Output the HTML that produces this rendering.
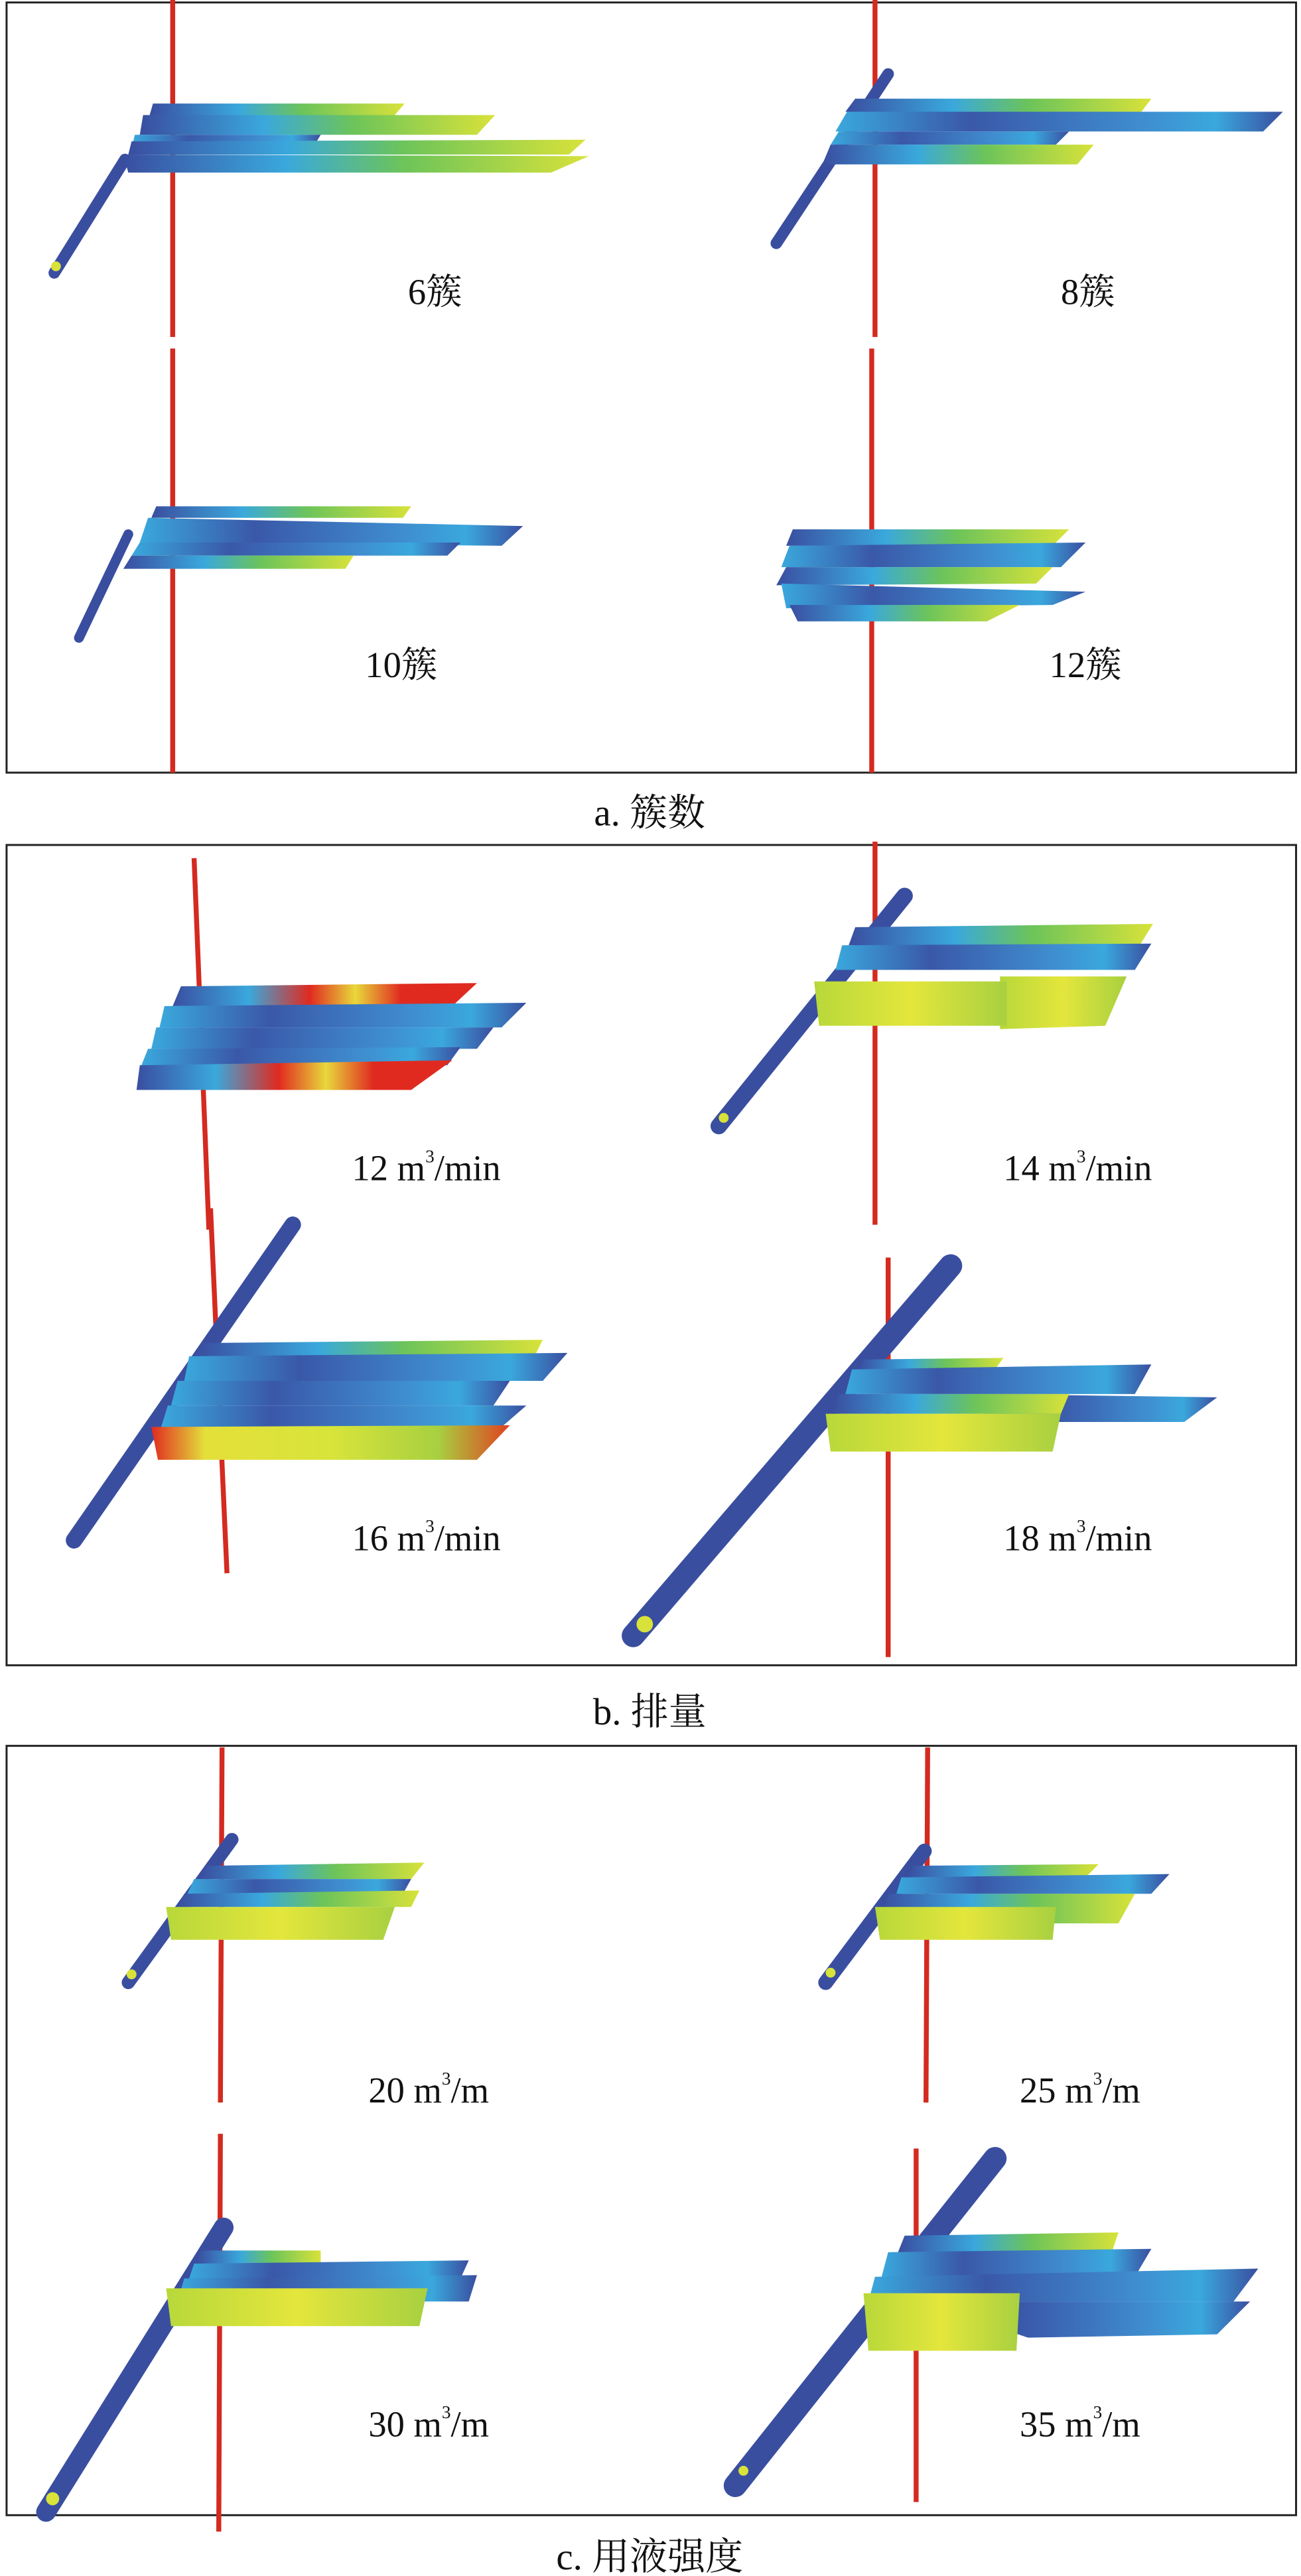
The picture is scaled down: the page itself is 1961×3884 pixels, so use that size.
<!DOCTYPE html>
<html><head><meta charset="utf-8"><style>
html,body{margin:0;padding:0;background:#fff}
svg{display:block}
text{font-family:"Liberation Serif","Noto Serif CJK SC",serif;fill:#111}
</style></head><body>
<svg width="1961" height="3884" viewBox="0 0 791 1567" preserveAspectRatio="none" xmlns="http://www.w3.org/2000/svg">
<defs>
<linearGradient id="gA" x1="0" x2="1" y1="0" y2="0"><stop offset="0" stop-color="#3a4ea0"/><stop offset=".35" stop-color="#3aa8dc"/><stop offset=".6" stop-color="#6cc45a"/><stop offset="1" stop-color="#d8e23a"/></linearGradient>
<linearGradient id="gB" x1="0" x2="1" y1="0" y2="0"><stop offset="0" stop-color="#3aa8dc"/><stop offset=".3" stop-color="#3a58a8"/><stop offset=".7" stop-color="#3f8fd0"/><stop offset=".85" stop-color="#3aa8dc"/><stop offset="1" stop-color="#3a4ea0"/></linearGradient>
<linearGradient id="gY" x1="0" x2="1" y1="0" y2="0"><stop offset="0" stop-color="#b8d83a"/><stop offset=".5" stop-color="#e4e63c"/><stop offset="1" stop-color="#a8d040"/></linearGradient>
<linearGradient id="gYR" x1="0" x2="1" y1="0" y2="0"><stop offset="0" stop-color="#e02a20"/><stop offset=".15" stop-color="#e4e03a"/><stop offset=".5" stop-color="#d8e43a"/><stop offset=".8" stop-color="#a8d040"/><stop offset="1" stop-color="#e04020"/></linearGradient>
<linearGradient id="gR" x1="0" x2="1" y1="0" y2="0"><stop offset="0" stop-color="#3a4ea0"/><stop offset=".25" stop-color="#3aa8dc"/><stop offset=".45" stop-color="#e02a20"/><stop offset=".6" stop-color="#e8d83a"/><stop offset=".75" stop-color="#e02a20"/><stop offset="1" stop-color="#e02a20"/></linearGradient>
</defs>
<g fill="none" stroke="#222" stroke-width="1.2">
<rect x="4" y="1.5" width="784" height="468.5"/>
<rect x="4" y="514" width="784" height="499"/>
<rect x="4" y="1062" width="784" height="468"/>
</g>
<g stroke="#d42a20" stroke-width="3" fill="none">
<line x1="105" y1="0" x2="105" y2="205"/><line x1="105" y1="212" x2="105" y2="470"/>
<line x1="532" y1="0" x2="532" y2="205"/><line x1="530" y1="212" x2="530" y2="470"/>
<line x1="118" y1="522" x2="127" y2="748"/><line x1="532" y1="512" x2="532" y2="745"/>
<line x1="128" y1="735" x2="138" y2="957"/><line x1="540" y1="765" x2="540" y2="1008"/>
<line x1="135" y1="1063" x2="134" y2="1279"/><line x1="564" y1="1063" x2="563" y2="1279"/>
<line x1="134" y1="1298" x2="133" y2="1540"/><line x1="557" y1="1307" x2="557" y2="1522"/>
</g>
<g stroke="#3a4ea0" stroke-linecap="round" fill="none">
<line x1="76" y1="97" x2="33" y2="166" stroke-width="7"/>
<line x1="540" y1="45" x2="472" y2="148" stroke-width="7"/>
<line x1="78" y1="325" x2="48" y2="388" stroke-width="6"/>
<line x1="550" y1="545" x2="437" y2="685" stroke-width="10"/>
<line x1="178" y1="745" x2="45" y2="937" stroke-width="10"/>
<line x1="578" y1="770" x2="385" y2="995" stroke-width="14"/>
<line x1="141" y1="1119" x2="78" y2="1206" stroke-width="8"/>
<line x1="562" y1="1126" x2="502" y2="1206" stroke-width="9"/>
<line x1="136" y1="1355" x2="28" y2="1528" stroke-width="12"/>
<line x1="605" y1="1313" x2="447" y2="1512" stroke-width="14"/>
</g>
<g fill="#d8e23a"><circle cx="34" cy="162" r="3"/><circle cx="440" cy="680" r="3"/><circle cx="392" cy="988" r="5"/><circle cx="80" cy="1201" r="3"/><circle cx="505" cy="1200" r="3"/><circle cx="32" cy="1520" r="4"/><circle cx="452" cy="1503" r="3"/></g>
<!-- a1 -->
<polygon fill="url(#gA)" points="93,63 246,63 240,70 91,70"/>
<polygon fill="url(#gA)" points="87,70 301,70 290,82 85,82"/>
<polygon fill="url(#gB)" points="82,82 195,82 190,90 80,90"/>
<polygon fill="url(#gA)" points="80,86 356,85 346,94 78,94"/>
<polygon fill="url(#gA)" points="75,94 358,95 335,105 78,105"/>
<!-- a2 -->
<polygon fill="url(#gA)" points="520,60 700,60 694,68 514,68"/>
<polygon fill="url(#gB)" points="515,68 780,68 768,80 508,80"/>
<polygon fill="url(#gB)" points="510,80 650,80 642,88 505,88"/>
<polygon fill="url(#gA)" points="505,88 665,88 655,100 500,100"/>
<!-- a3 -->
<polygon fill="url(#gA)" points="95,308 250,308 245,315 92,315"/>
<polygon fill="url(#gB)" points="90,315 318,320 305,332 85,330"/>
<polygon fill="url(#gB)" points="85,330 280,330 272,338 80,338"/>
<polygon fill="url(#gA)" points="80,338 215,338 210,346 75,346"/>
<!-- a4 -->
<polygon fill="url(#gA)" points="482,322 650,322 640,332 478,332"/>
<polygon fill="url(#gB)" points="480,332 660,330 645,345 475,345"/>
<polygon fill="url(#gA)" points="478,345 640,345 630,355 472,356"/>
<polygon fill="url(#gB)" points="475,355 660,360 640,368 478,370"/>
<polygon fill="url(#gA)" points="480,368 620,368 600,378 485,378"/>
<!-- b1 -->
<polygon fill="url(#gR)" points="110,600 290,598 275,612 105,612"/>
<polygon fill="url(#gB)" points="100,612 320,610 305,625 97,625"/>
<polygon fill="url(#gB)" points="95,625 300,625 290,638 92,638"/>
<polygon fill="url(#gB)" points="90,638 280,637 272,648 86,648"/>
<polygon fill="url(#gR)" points="85,648 275,645 250,663 83,663"/>
<!-- b2 -->
<polygon fill="url(#gA)" points="520,564 701,562 693,575 516,575"/>
<polygon fill="url(#gB)" points="512,575 700,574 690,590 508,590"/>
<polygon fill="url(#gY)" points="608,594 685,594 672,624 608,626"/>
<polygon fill="url(#gY)" points="495,597 612,597 612,624 498,624"/>
<!-- b3 -->
<polygon fill="url(#gA)" points="122,817 330,815 325,825 120,825"/>
<polygon fill="url(#gB)" points="115,825 345,823 330,840 112,840"/>
<polygon fill="url(#gB)" points="108,840 310,840 300,855 104,855"/>
<polygon fill="url(#gB)" points="102,855 320,855 305,868 98,868"/>
<polygon fill="url(#gYR)" points="92,868 310,867 290,888 96,888"/>
<!-- b4 -->
<polygon fill="url(#gA)" points="525,827 610,826 605,833 522,833"/>
<polygon fill="url(#gB)" points="518,833 700,830 690,848 514,848"/>
<polygon fill="url(#gB)" points="600,848 740,850 720,865 600,865"/>
<polygon fill="url(#gA)" points="510,848 650,848 645,860 506,860"/>
<polygon fill="url(#gY)" points="502,860 645,860 640,883 505,883"/>
<!-- c1 -->
<polygon fill="url(#gA)" points="125,1135 258,1133 250,1143 122,1143"/>
<polygon fill="url(#gB)" points="118,1143 250,1143 245,1152 114,1152"/>
<polygon fill="url(#gA)" points="112,1152 255,1150 250,1160 108,1160"/>
<polygon fill="url(#gY)" points="101,1160 240,1160 233,1180 104,1180"/>
<!-- c2 -->
<polygon fill="url(#gA)" points="555,1135 668,1134 660,1142 552,1142"/>
<polygon fill="url(#gB)" points="548,1142 711,1140 700,1152 545,1152"/>
<polygon fill="url(#gA)" points="540,1152 690,1152 680,1170 536,1170"/>
<polygon fill="url(#gY)" points="532,1160 642,1160 640,1180 535,1180"/>
<!-- c3 -->
<polygon fill="url(#gA)" points="122,1369 195,1369 195,1377 120,1377"/>
<polygon fill="url(#gB)" points="118,1377 285,1375 280,1386 115,1386"/>
<polygon fill="url(#gB)" points="112,1386 290,1384 285,1400 108,1400"/>
<polygon fill="url(#gY)" points="101,1392 260,1392 255,1415 104,1415"/>
<!-- c4 -->
<polygon fill="url(#gA)" points="550,1360 680,1358 676,1370 546,1370"/>
<polygon fill="url(#gB)" points="540,1370 700,1368 690,1385 536,1385"/>
<polygon fill="url(#gB)" points="532,1385 765,1380 750,1400 528,1400"/>
<polygon fill="url(#gB)" points="560,1400 760,1400 740,1420 625,1422"/>
<polygon fill="url(#gY)" points="525,1395 620,1395 618,1430 528,1430"/>
<!-- labels -->
<g font-size="22">
<text x="248" y="185">6簇</text>
<text x="645" y="185">8簇</text>
<text x="222" y="412">10簇</text>
<text x="638" y="412">12簇</text>
<text x="214" y="718">12 m<tspan font-size="11" dy="-11">3</tspan><tspan dy="11">/min</tspan></text>
<text x="610" y="718">14 m<tspan font-size="11" dy="-11">3</tspan><tspan dy="11">/min</tspan></text>
<text x="214" y="943">16 m<tspan font-size="11" dy="-11">3</tspan><tspan dy="11">/min</tspan></text>
<text x="610" y="943">18 m<tspan font-size="11" dy="-11">3</tspan><tspan dy="11">/min</tspan></text>
<text x="224" y="1279">20 m<tspan font-size="11" dy="-11">3</tspan><tspan dy="11">/m</tspan></text>
<text x="620" y="1279">25 m<tspan font-size="11" dy="-11">3</tspan><tspan dy="11">/m</tspan></text>
<text x="224" y="1482">30 m<tspan font-size="11" dy="-11">3</tspan><tspan dy="11">/m</tspan></text>
<text x="620" y="1482">35 m<tspan font-size="11" dy="-11">3</tspan><tspan dy="11">/m</tspan></text>
</g>
<g font-size="23" text-anchor="middle">
<text x="395" y="502">a. 簇数</text>
<text x="395" y="1049">b. 排量</text>
<text x="395" y="1563">c. 用液强度</text>
</g>
</svg>
</body></html>
